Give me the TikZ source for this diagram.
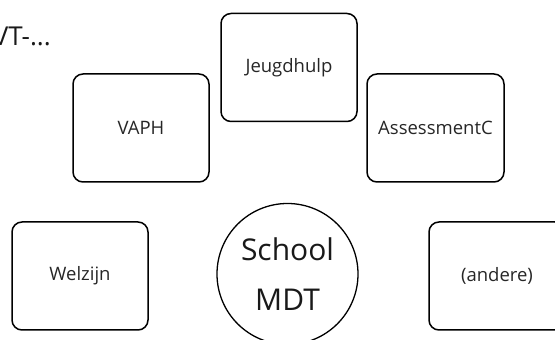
\documentclass[tikz,border=0pt]{standalone}
\usepackage{fontspec}
\setmainfont{Open Sans}
\begin{document}
\begin{tikzpicture}[x=1pt,y=1pt,
  orgbox/.style={draw=black, line width=1.5pt, rounded corners=10pt, minimum width=136pt, minimum height=108pt, inner sep=0pt, font=\fontsize{18.5}{22}\selectfont, text=black!85},
  hub/.style={draw=black, line width=1.3pt, circle, minimum size=141pt, inner sep=0pt},
  hubtext/.style={align=center, font=\fontsize{30}{50}\selectfont, text=black!90}]
\useasboundingbox (0,0) rectangle (555,340);
\node[anchor=base east, font=\fontsize{26}{30}\selectfont, text=black!90, inner sep=0pt] (vt) at (51,294) {VT-...};
\node[orgbox] (jeugd) at (289,272.5) {Jeugdhulp};
\node[orgbox] (vaph) at (141,212) {VAPH};
\node[orgbox, minimum width=137pt] (assess) at (435.5,212) {AssessmentC};
\node[orgbox] (welzijn) at (80,64) {Welzijn};
\node[orgbox] (andere) at (497,64) {(andere)};
\node[hub] (school) at (287.5,66) {};
\node[hubtext] (schooltext) at (school.center) {School\\MDT};
\end{tikzpicture}
\end{document}
